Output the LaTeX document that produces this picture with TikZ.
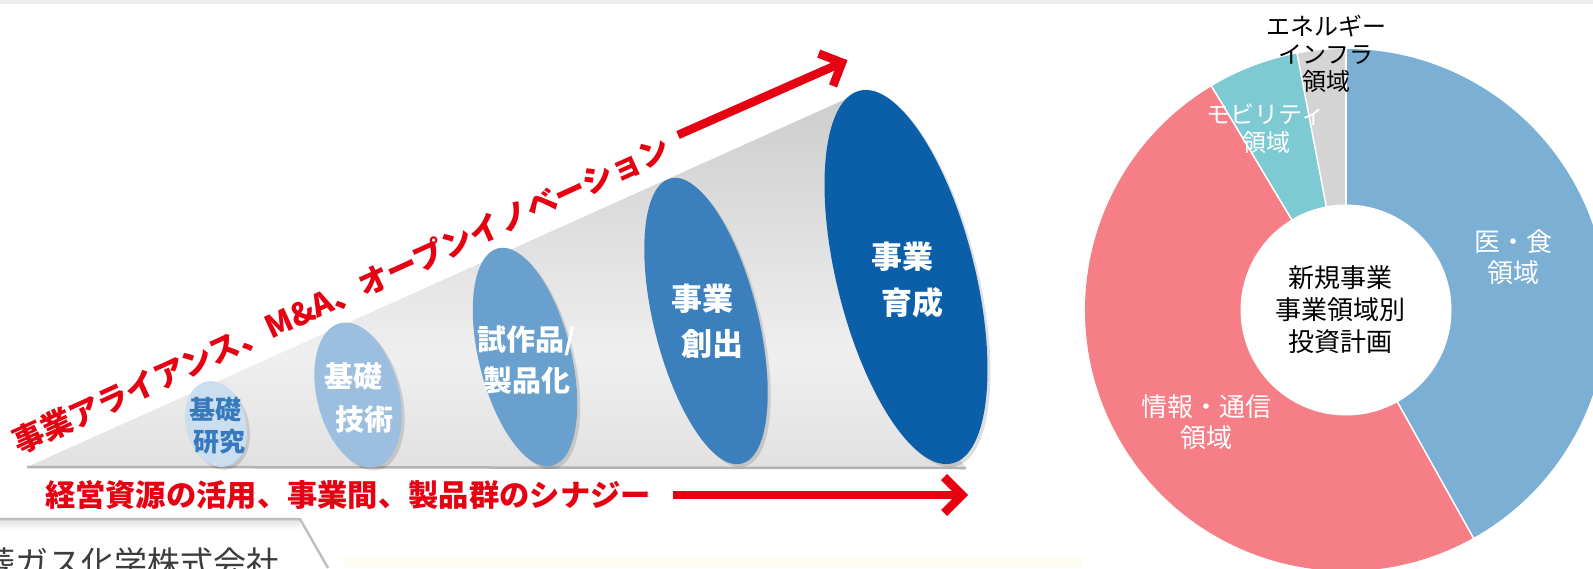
\documentclass[tikz,border=0pt]{standalone}
\usepackage{fontspec}
\setmainfont{Noto Sans CJK JP}
\usetikzlibrary{calc}
\definecolor{redA}{HTML}{E60012}
\definecolor{coneEdge}{HTML}{C6C6C6}
\definecolor{coneMid}{HTML}{EFEFEF}
\definecolor{eA}{HTML}{CADEF0}
\definecolor{eAt}{HTML}{3779BD}
\definecolor{eB}{HTML}{9CBFDF}
\definecolor{eC}{HTML}{6AA0CE}
\definecolor{eD}{HTML}{3B80BD}
\definecolor{eE}{HTML}{0B5FA8}
\definecolor{dBlue}{HTML}{7BAFD4}
\definecolor{dPink}{HTML}{F57E87}
\definecolor{dTeal}{HTML}{7ECAD3}
\definecolor{dGray}{HTML}{D4D4D4}
\definecolor{topStrip}{HTML}{EEEEEE}
\definecolor{compGray}{HTML}{3C3C3C}
\definecolor{paleYellow}{HTML}{FDFDF2}
\newcommand{\myellipse}[5]{%
  \fill[black, opacity=0.13, rotate around={14:(#2+3,#3+3)}] (#2+3,#3+3) ellipse[x radius=#4, y radius=#5];
  \fill[#1, rotate around={14:(#2,#3)}] (#2,#3) ellipse[x radius=#4, y radius=#5];}
\tikzset{
  redtxt/.style={text=redA, font=\bfseries\fontsize{31}{31}\selectfont, inner sep=0pt},
  elltxt/.style={text=white, font=\bfseries\fontsize{31}{31}\selectfont, inner sep=0pt},
  redarrow/.style={draw=redA, line width=8.5pt, line join=miter, miter limit=10},
  donutlbl/.style={align=center, font=\fontsize{26}{31}\selectfont, inner sep=0pt},
}
\begin{document}
\begin{tikzpicture}[x=1pt, y=-1pt]
\useasboundingbox (0,0) rectangle (1593,568);
\clip (0,0) rectangle (1593,568);
\fill[white] (0,0) rectangle (1593,568);
\fill[topStrip] (0,0) rectangle (1593,4);
\fill[paleYellow] (345,557) rectangle (1082,568);

% cone
\coordinate (cTip) at (27,467);
\coordinate (cTop) at (857,94);
\begin{scope}
  \clip (cTip) -- (cTop) -- (906,277) -- (958,458) -- (966,467) -- cycle;
  \begin{scope}[shift={(27,467)}, rotate=12.2]
    \shade[top color=coneEdge, bottom color=coneEdge, middle color=coneMid] (-60,-200) rectangle (1100,200);
  \end{scope}
\end{scope}
\draw[black!30, line width=2.5pt] (cTip) -- (966,468);

% ellipses
\myellipse{eA}{216}{424}{30}{43.5}
\myellipse{eB}{358}{395}{41}{74}
\myellipse{eC}{525}{357}{46}{112}
\myellipse{eD}{706}{321}{52}{147}
\myellipse{eE}{906}{277}{69}{192}

\node[elltxt, text=eAt, font=\bfseries\fontsize{26}{26}\selectfont] (kA1) at (215,410) {基礎};
\node[elltxt, text=eAt, font=\bfseries\fontsize{26}{26}\selectfont] (kA2) at (219,442) {研究};
\node[elltxt, font=\bfseries\fontsize{29}{29}\selectfont] (kB1) at (353,377) {基礎};
\node[elltxt, font=\bfseries\fontsize{29}{29}\selectfont] (kB2) at (364,419) {技術};
\node[elltxt, font=\bfseries\fontsize{29}{29}\selectfont] (kC1) at (527,341) {試作品/};
\node[elltxt, font=\bfseries\fontsize{29}{29}\selectfont] (kC2) at (527,381) {製品化};
\node[elltxt] (kD1) at (702,299) {事業};
\node[elltxt] (kD2) at (712,344) {創出};
\node[elltxt] (kE1) at (902,257) {事業};
\node[elltxt] (kE2) at (912,303) {育成};

% red texts
\node[redtxt, rotate=24.5] (diag) at (341,295) {事業アライアンス、M\&A、オープンイノベーション};
\node[redtxt, font=\bfseries\fontsize{30.3}{31}\selectfont] (synergy) at (348,495) {経営資源の活用、事業間、製品群のシナジー};

% red arrows
\coordinate (dS) at (678,135);
\coordinate (dT) at (842,62.6);
\coordinate (dA1) at (818.7,53.6);
\coordinate (dA2) at (833,85.9);
\draw[redarrow] (dS) -- (dT);
\draw[redarrow] (dA1) -- (dT) -- (dA2);
\coordinate (bS) at (673,495);
\coordinate (bT) at (962,495);
\coordinate (bA1) at (944,477);
\coordinate (bA2) at (944,513);
\draw[redarrow] (bS) -- (bT);
\draw[redarrow] (bA1) -- (bT) -- (bA2);

% company tab
\fill[white] (0,519) -- (300,519) -- (328,568) -- (0,568) -- cycle;
\shade[top color=black!12, bottom color=white] (0,519) rectangle (300,530);
\draw[black!25, line width=2.5pt] (0,519) -- (300,519) -- (328,568);
\node[anchor=base west, inner sep=0pt, text=compGray, font=\fontsize{33}{33}\selectfont] (comp) at (-51,575) {三菱ガス化学株式会社};

% donut
\coordinate (dc) at (1346,310);
\fill[dBlue] (dc) -- ++(-90:261) arc[start angle=-90, end angle=60.8, radius=261] -- cycle;
\fill[dPink] (dc) -- ++(60.8:261) arc[start angle=60.8, end angle=239, radius=261] -- cycle;
\fill[dTeal] (dc) -- ++(239:261) arc[start angle=239, end angle=259.2, radius=261] -- cycle;
\fill[dGray] (dc) -- ++(259.2:261) arc[start angle=259.2, end angle=270, radius=261] -- cycle;
\foreach \a in {-90,60.8,239,259.2} \draw[white, line width=1.5pt] (dc) -- ++(\a:262);
\fill[white] (dc) circle[radius=105.5];

\node[donutlbl, text=white] (med) at (1513,257) {医・食\\領域};
\node[donutlbl, text=white] (info) at (1206,422) {情報・通信\\領域};
\node[donutlbl, text=white, font=\fontsize{24}{28}\selectfont] (mob) at (1266,129) {モビリティ\\領域};
\node[donutlbl, font=\fontsize{24}{27.5}\selectfont] (ene) at (1326,54) {エネルギー\\インフラ\\領域};
\node[donutlbl, font=\fontsize{26}{32}\selectfont] (ctr) at (1340,310) {新規事業\\事業領域別\\投資計画};
\end{tikzpicture}
\end{document}
